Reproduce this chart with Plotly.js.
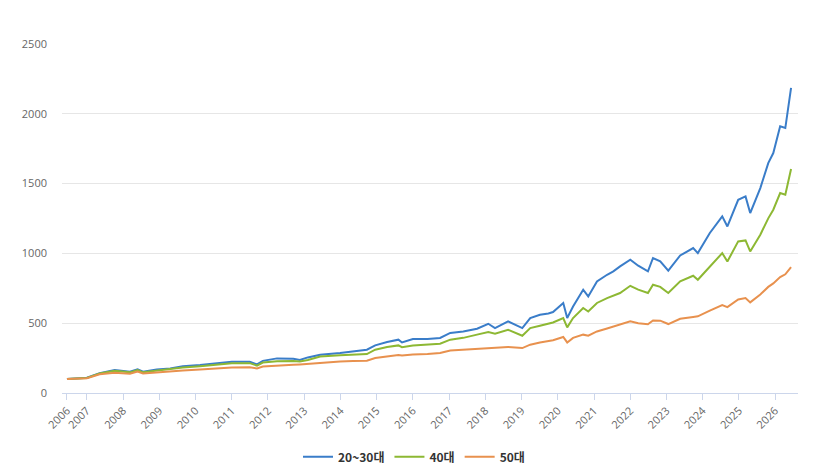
<!DOCTYPE html>
<html>
<head>
<meta charset="utf-8">
<script src="https://cdn.plot.ly/plotly-3.0.1.min.js"></script>
<style>html,body{margin:0;padding:0;background:#fff;}#chart{width:828px;height:471px;}</style>
</head>
<body>
<div id="chart"></div>
<script>
const dates = ["2006-06-14","2007-01-01","2007-05-10","2007-10-08","2008-03-10","2008-05-26","2008-07-20","2008-12-05","2009-04-20","2009-08-25","2010-02-15","2010-08-08","2011-01-01","2011-07-01","2011-09-12","2011-11-10","2012-04-01","2012-09-12","2012-11-17","2013-02-06","2013-06-10","2013-12-28","2014-05-08","2014-09-24","2014-12-17","2015-04-16","2015-08-08","2015-09-13","2016-01-01","2016-05-27","2016-10-01","2017-01-12","2017-05-23","2017-10-09","2018-01-30","2018-04-08","2018-08-18","2019-01-08","2019-03-29","2019-07-05","2019-09-28","2019-11-14","2020-02-25","2020-04-05","2020-06-03","2020-09-13","2020-11-03","2021-01-30","2021-05-12","2021-07-14","2021-09-20","2022-01-01","2022-03-22","2022-06-28","2022-08-18","2022-10-30","2023-01-19","2023-05-19","2023-09-27","2023-11-13","2024-03-13","2024-07-16","2024-09-06","2024-12-24","2025-03-08","2025-04-24","2025-08-04","2025-10-23","2025-12-13","2026-02-20","2026-04-13","2026-06-10"];
const age2030 = [100,110,142,165,152,170,152,168,176,192,200,212,224,224,205,230,248,246,236,255,274,286,298,310,341,365,382,362,387,387,394,430,441,460,496,465,513,465,537,561,570,580,645,537,620,740,692,799,847,871,907,955,912,871,967,943,876,985,1038,1002,1146,1265,1193,1384,1408,1289,1468,1647,1719,1910,1898,2185];
const age40 = [100,108,140,160,148,165,148,160,168,182,192,203,213,214,196,218,228,230,226,236,262,270,275,279,310,329,341,328,341,345,353,382,395,418,437,425,453,410,465,482,495,505,537,470,537,609,584,645,680,698,716,768,740,716,776,760,716,800,840,811,907,1002,942,1086,1093,1014,1134,1251,1313,1432,1420,1604];
const age50 = [100,106,134,145,138,153,140,148,153,162,168,175,183,184,176,190,198,202,205,209,220,226,229,231,250,262,272,268,276,280,286,305,310,316,322,320,330,322,346,362,370,378,401,362,395,418,410,441,462,475,489,513,500,492,520,518,494,532,545,549,590,630,615,670,680,649,706,760,785,830,850,902];
const seriesNames = ["20~30대","40대","50대"];
const tickDates = ["2006-06-14","2007-01-01","2008-01-01","2009-01-01","2010-01-01","2011-01-01","2012-01-01","2013-01-01","2014-01-01","2015-01-01","2016-01-01","2017-01-01","2018-01-01","2019-01-01","2020-01-01","2021-01-01","2022-01-01","2023-01-01","2024-01-01","2025-01-01","2026-01-01"];
const tickText = ["2006","2007","2008","2009","2010","2011","2012","2013","2014","2015","2016","2017","2018","2019","2020","2021","2022","2023","2024","2025","2026"];
const yTicks = [0,500,1000,1500,2000,2500];

const colors = ["#3a7dc9","#8db833","#e8914e"];
const vals = [age2030, age40, age50];
const traces = vals.map((v,i)=>({
  x: dates, y: v, type:'scatter', mode:'lines', name: seriesNames[i],
  line:{color:colors[i], width:2}
}));

const layout = {
  width:828, height:471,
  margin:{l:62, r:30, t:44, b:78},
  paper_bgcolor:'#fff', plot_bgcolor:'#fff',
  showlegend:true,
  legend:{orientation:'h', xref:'container', yref:'container', x:0.5, xanchor:'center', y:0.03, yanchor:'middle',
    font:{family:'Noto Sans CJK KR, sans-serif', size:12, color:'#333', weight:'bold'}, itemwidth:30, tracegroupgap:0},
  xaxis:{type:'date', range:['2006-04-25','2026-08-19'], tickvals:tickDates, ticktext:tickText,
    tickangle:-45, showgrid:false, showline:true, linecolor:'#ccd6eb', linewidth:1,
    ticks:'outside', ticklen:6, tickcolor:'#ccd6eb', zeroline:false,
    tickfont:{family:'Open Sans, sans-serif', size:11, color:'#666'}},
  yaxis:{range:[0,2500], tickvals:yTicks, showgrid:true, gridcolor:'#e6e6e6', gridwidth:1,
    zeroline:false, showline:false, ticks:'', ticklabelstandoff:14,
    tickfont:{family:'Open Sans, sans-serif', size:11, color:'#666'}}
};
Plotly.newPlot('chart', traces, layout, {displayModeBar:false, staticPlot:true});
</script>
</body>
</html>
